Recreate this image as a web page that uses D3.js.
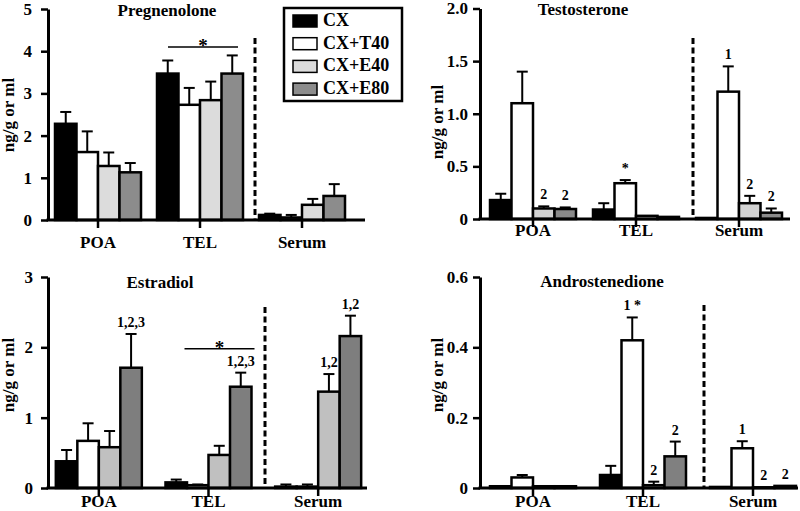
<!DOCTYPE html>
<html><head><meta charset="utf-8">
<script src="https://cdn.jsdelivr.net/npm/d3@7"></script>
<style>
body{margin:0;background:#fff}
svg text{font-family:"Liberation Serif","Times New Roman","DejaVu Serif",serif !important;font-weight:bold;fill:#000}
</style></head><body>
<svg id="chart" width="800" height="511"></svg>
<script>
// ---------- data ----------
const categories = ["POA", "TEL", "Serum"];
const seriesNames = ["CX", "CX+T40", "CX+E40", "CX+E80"];

// mean values [category][series] and SEM (null = no visible error bar)
const pregMean = [[2.28, 1.61, 1.28, 1.13], [3.47, 2.73, 2.84, 3.47], [0.12, 0.06, 0.36, 0.57]];
const pregErr  = [[0.28, 0.49, 0.32, 0.22], [0.31, 0.40, 0.44, 0.43], [0.03, 0.06, 0.14, 0.28]];

const testoMean = [[0.18, 1.10, 0.10, 0.095], [0.09, 0.34, 0.03, 0.02], [0.01, 1.21, 0.15, 0.06]];
const testoErr  = [[0.06, 0.30, 0.02, 0.015], [0.06, 0.03, null, null], [null, 0.24, 0.07, 0.04]];

const estMean = [[0.38, 0.67, 0.58, 1.71], [0.08, 0.04, 0.47, 1.44], [0.02, 0.02, 1.37, 2.16]];
const estErr  = [[0.16, 0.25, 0.23, 0.48], [0.04, 0.01, 0.13, 0.20], [0.03, 0.03, 0.25, 0.29]];

const androMean = [[0.005, 0.030, 0.005, 0.005], [0.037, 0.420, 0.008, 0.090], [0.003, 0.113, 0.002, 0.006]];
const androErr  = [[null, 0.007, null, null], [0.026, 0.065, 0.010, 0.042], [null, 0.020, null, null]];

// tick labels
const pregTicks = [0, 1, 2, 3, 4, 5];
const pregTickLabels = ["0", "1", "2", "3", "4", "5"];
const testoTicks = [0, 0.5, 1.0, 1.5, 2.0];
const testoTickLabels = ["0", "0.5", "1.0", "1.5", "2.0"];
const estTicks = [0, 1, 2, 3];
const estTickLabels = ["0", "1", "2", "3"];
const androTicks = [0, 0.2, 0.4, 0.6];
const androTickLabels = ["0", "0.2", "0.4", "0.6"];

// annotations: [category index, series index, text]
const testoNotes = [[0, 2, "2"], [0, 3, "2"], [1, 1, "*"], [2, 1, "1"], [2, 2, "2"], [2, 3, "2"]];
const estNotes = [[0, 3, "1,2,3"], [1, 3, "1,2,3"], [2, 2, "1,2"], [2, 3, "1,2"]];
const androNotes = [[1, 1, "1 *"], [1, 2, "2"], [1, 3, "2"], [2, 1, "1"], [2, 2, "2"], [2, 3, "2"]];

// significance bar over a category: [category index, value level]
const pregSig = [1, 4.1];
const estSig = [1, 1.98];

// ---------- layout ----------
const FONT = '"Liberation Serif","Times New Roman","DejaVu Serif",serif';
const svg = d3.select("#chart");

const panels = [
  { title: "Pregnenolone", mean: pregMean, err: pregErr, ticks: pregTicks, tickLabels: pregTickLabels, domain: [0, 5],
    axisX: 48, xEnd: 365, y0: 220, yTop: 9, groupRange: [47, 353], tickPad: 9,
    dashX: 255, dashTop: 38, titleX: 167, titleY: 16, ylabX: 14, ylabY: 115, xlabY: 248,
    fills: ["#000000", "#ffffff", "#dcdcdc", "#8c8c8c"], notes: [], sig: pregSig, sigExt: [-32, 38] },
  { title: "Testosterone", mean: testoMean, err: testoErr, ticks: testoTicks, tickLabels: testoTickLabels, domain: [0, 2],
    axisX: 480, xEnd: 790, y0: 219, yTop: 8.5, groupRange: [481.5, 790.5], tickPad: 5,
    dashX: 693, dashTop: 38, titleX: 583, titleY: 15, ylabX: 443, ylabY: 122, xlabY: 236,
    fills: ["#000000", "#ffffff", "#d2d2d2", "#8a8a8a"], notes: testoNotes, sig: null },
  { title: "Estradiol", mean: estMean, err: estErr, ticks: estTicks, tickLabels: estTickLabels, domain: [0, 3],
    axisX: 48, xEnd: 367, y0: 488, yTop: 277, groupRange: [44, 373], tickPad: 8,
    dashX: 265, dashTop: 307, titleX: 160, titleY: 288, ylabX: 14, ylabY: 375, xlabY: 507,
    fills: ["#000000", "#ffffff", "#c0c0c0", "#7e7e7e"], notes: estNotes, sig: estSig, sigExt: [-24, 46] },
  { title: "Androstenedione", mean: androMean, err: androErr, ticks: androTicks, tickLabels: androTickLabels, domain: [0, 0.6],
    axisX: 480, xEnd: 798, y0: 488, yTop: 277, groupRange: [478, 808], tickPad: 5,
    dashX: 704, dashTop: 305, titleX: 602, titleY: 287, ylabX: 443, ylabY: 375, xlabY: 507,
    fills: ["#000000", "#ffffff", "#c8c8c8", "#808080"], notes: androNotes, sig: null }
];

const groupWidth = 86;

function txt(sel, size) {
  return sel.attr("font-family", FONT).attr("font-weight", "bold").style("font-size", size + "px");
}

function drawPanel(p) {
  const g = svg.append("g");
  const y = d3.scaleLinear().domain(p.domain).range([p.y0, p.yTop]);
  const x0 = d3.scaleBand().domain(categories).range(p.groupRange);
  const x1 = d3.scaleBand().domain(seriesNames).range([0, groupWidth]);
  const gx = c => x0(c) + (x0.bandwidth() - groupWidth) / 2;

  const rows = categories.flatMap((c, ci) => seriesNames.map((s, si) => ({
    c, ci, s, si, mean: p.mean[ci][si], err: p.err[ci][si]
  })));

  g.selectAll("rect.bar").data(rows).enter().append("rect")
    .attr("class", "bar")
    .attr("x", d => gx(d.c) + x1(d.s))
    .attr("y", d => y(d.mean))
    .attr("width", x1.bandwidth())
    .attr("height", d => p.y0 - y(d.mean))
    .attr("fill", d => p.fills[d.si])
    .attr("stroke", "#000").attr("stroke-width", 2.5);

  const eb = rows.filter(d => d.err != null);
  const cx = d => gx(d.c) + x1(d.s) + x1.bandwidth() / 2;
  g.selectAll("line.ev").data(eb).enter().append("line")
    .attr("x1", cx).attr("x2", cx)
    .attr("y1", d => y(d.mean)).attr("y2", d => y(d.mean + d.err))
    .attr("stroke", "#000").attr("stroke-width", 2);
  g.selectAll("line.ec").data(eb).enter().append("line")
    .attr("x1", d => cx(d) - 5.5).attr("x2", d => cx(d) + 5.5)
    .attr("y1", d => y(d.mean + d.err)).attr("y2", d => y(d.mean + d.err))
    .attr("stroke", "#000").attr("stroke-width", 2);

  txt(g.selectAll("text.note").data(p.notes).enter().append("text")
    .attr("x", d => gx(categories[d[0]]) + x1(seriesNames[d[1]]) + x1.bandwidth() / 2)
    .attr("y", d => {
      const m = p.mean[d[0]][d[1]], e = p.err[d[0]][d[1]] || 0;
      return y(m + e) - 7;
    })
    .attr("text-anchor", "middle"), 14)
    .text(d => d[2]);

  if (p.sig) {
    const c = categories[p.sig[0]];
    const mid = x0(c) + x0.bandwidth() / 2;
    const sy = y(p.sig[1]);
    g.append("line").attr("x1", mid + p.sigExt[0]).attr("x2", mid + p.sigExt[1])
      .attr("y1", sy).attr("y2", sy).attr("stroke", "#000").attr("stroke-width", 1.5);
    txt(g.append("text").attr("x", mid + (p.sigExt[0] + p.sigExt[1]) / 2).attr("y", sy + 5)
      .attr("text-anchor", "middle"), 19).text("*");
  }

  g.append("line").attr("x1", p.dashX).attr("x2", p.dashX)
    .attr("y1", p.dashTop).attr("y2", p.y0)
    .attr("stroke", "#000").attr("stroke-width", 3).attr("stroke-dasharray", "6,3.5");

  const ya = d3.axisLeft(y).tickValues(p.ticks)
    .tickFormat((d, i) => p.tickLabels[i]).tickSize(7).tickSizeOuter(0).tickPadding(p.tickPad);
  const yg = g.append("g").attr("transform", `translate(${p.axisX},0)`).call(ya);
  yg.attr("font-family", FONT);
  yg.select(".domain").attr("stroke-width", 3);
  yg.selectAll(".tick line").attr("stroke-width", 2.5);
  txt(yg.selectAll(".tick text"), 17);

  g.append("line").attr("x1", p.axisX - 1.5).attr("x2", p.xEnd)
    .attr("y1", p.y0).attr("y2", p.y0).attr("stroke", "#000").attr("stroke-width", 3);
  g.selectAll("line.xt").data(categories).enter().append("line")
    .attr("x1", c => x0(c) + x0.bandwidth() / 2).attr("x2", c => x0(c) + x0.bandwidth() / 2)
    .attr("y1", p.y0).attr("y2", p.y0 + 8).attr("stroke", "#000").attr("stroke-width", 2.5);
  txt(g.selectAll("text.xl").data(categories).enter().append("text")
    .attr("x", c => x0(c) + x0.bandwidth() / 2).attr("y", p.xlabY)
    .attr("text-anchor", "middle"), 17).text(c => c);

  txt(g.append("text").attr("x", p.titleX).attr("y", p.titleY)
    .attr("text-anchor", "middle"), 17).text(p.title);

  txt(g.append("text").attr("transform", `translate(${p.ylabX},${p.ylabY}) rotate(-90)`)
    .attr("text-anchor", "middle"), 17).text("ng/g or ml");
}

panels.forEach(drawPanel);

// legend
const lg = svg.append("g");
lg.append("rect").attr("x", 284).attr("y", 8).attr("width", 118).attr("height", 93)
  .attr("fill", "#fff").attr("stroke", "#000").attr("stroke-width", 2.5);
const legendFills = panels[0].fills;
seriesNames.forEach((s, i) => {
  const ry = 15 + i * 22.7;
  lg.append("rect").attr("x", 293).attr("y", ry).attr("width", 24).attr("height", 12)
    .attr("fill", legendFills[i]).attr("stroke", "#000").attr("stroke-width", 1.5);
  txt(lg.append("text").attr("x", 323).attr("y", ry + 11), 18).text(s);
});
</script>
</body></html>
